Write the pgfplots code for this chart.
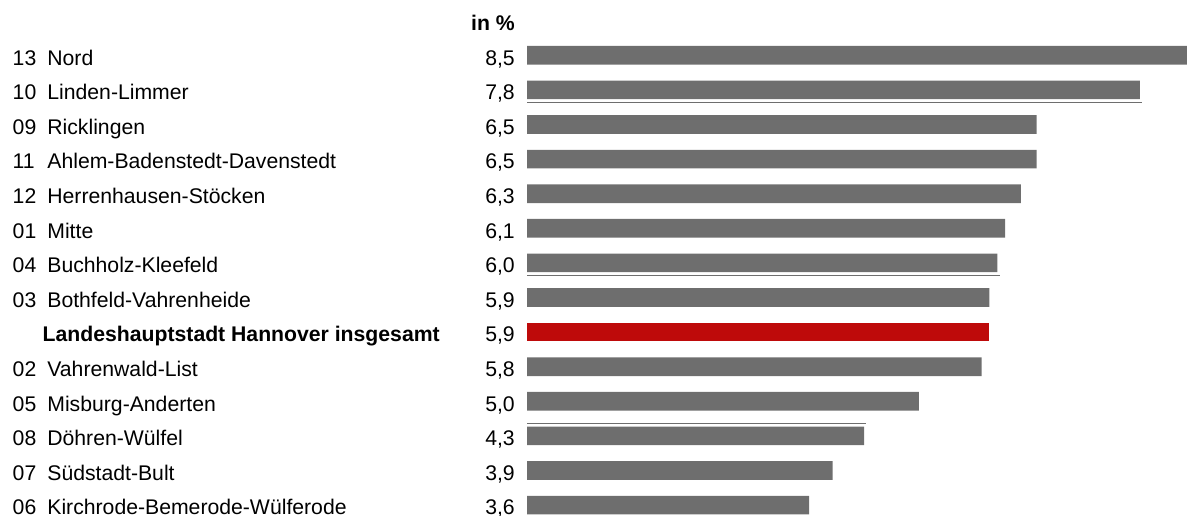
\documentclass[border=0pt]{standalone}
\usepackage{pgfplots}
\pgfplotsset{compat=1.18}
\usepackage{fontspec}
\setmainfont{Liberation Sans}
\definecolor{bargray}{HTML}{6E6E6E}
\definecolor{barred}{HTML}{BE0A0A}
\newcommand\lab[3]{\makebox[376.5pt][l]{\makebox[26pt][l]{#1}#2\hfill #3}}
\begin{document}
\begin{tikzpicture}[font=\fontsize{15.9}{19}\selectfont]
\useasboundingbox (0,0) rectangle (890.25pt,387pt);
\begin{axis}[
  at={(395.25pt,-4.8pt)}, anchor=south west,
  scale only axis, width=495pt, height=363.3pt,
  xmin=0, xmax=8.42, ymin=-0.5, ymax=13.5, y dir=reverse,
  axis lines=left, axis line style={draw=none},
  xtick=\empty, ytick={0,...,13}, ytick style={draw=none}, major tick length=0pt,
  clip mode=individual,
  yticklabel style={anchor=base east, inner sep=0pt, xshift=-9pt, yshift=-7.3pt},
  yticklabels={
    \lab{13}{Nord}{8,5},
    \lab{10}{Linden-Limmer}{7,8},
    \lab{09}{Ricklingen}{6,5},
    \lab{11}{Ahlem-Badenstedt-Davenstedt}{6,5},
    \lab{12}{Herrenhausen-Stöcken}{6,3},
    \lab{01}{Mitte}{6,1},
    \lab{04}{Buchholz-Kleefeld}{6,0},
    \lab{03}{Bothfeld-Vahrenheide}{5,9},
    {\makebox[376.5pt][l]{\hspace{22.5pt}\textbf{Landeshauptstadt Hannover insgesamt}\hfill 5,9}},
    \lab{02}{Vahrenwald-List}{5,8},
    \lab{05}{Misburg-Anderten}{5,0},
    \lab{08}{Döhren-Wülfel}{4,3},
    \lab{07}{Südstadt-Bult}{3,9},
    \lab{06}{Kirchrode-Bemerode-Wülferode}{3,6}
  },
]
\addplot[xbar, bar width=14pt, fill=bargray, draw=none] coordinates {
  (8.5,0) (7.82,1) (6.5,2) (6.5,3) (6.3,4) (6.1,5) (6.0,6) (5.9,7)
  (5.8,9) (5.0,10) (4.3,11) (3.9,12) (3.6,13)
};
\addplot[xbar, bar width=14pt, fill=barred, draw=none] coordinates {(5.9,8)};
\addplot[draw=bargray, line width=0.9pt, mark=none] coordinates {(-0.04,1.36) (7.85,1.36)};
\addplot[draw=bargray, line width=0.9pt, mark=none] coordinates {(-0.04,6.37) (6.03,6.37)};
\addplot[draw=bargray, line width=0.9pt, mark=none] coordinates {(-0.05,10.64) (4.32,10.64)};
\node[anchor=base east, inner sep=0pt, xshift=-9pt, yshift=-7.3pt, font=\fontsize{15.9}{19}\selectfont\bfseries] at (axis cs:0,-1) {in \%};
\end{axis}
\end{tikzpicture}
\end{document}
